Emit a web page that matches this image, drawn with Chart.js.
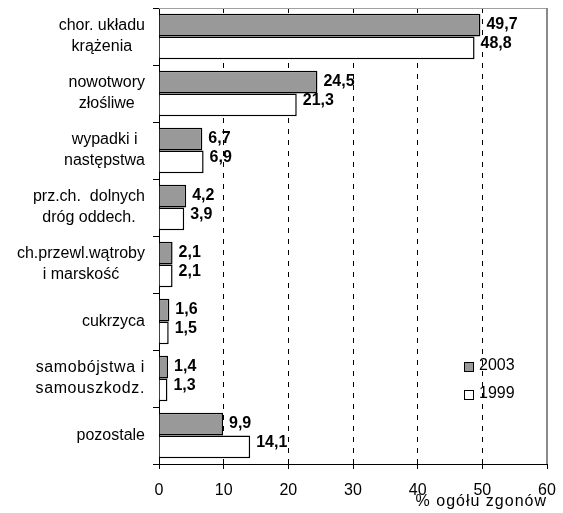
<!DOCTYPE html>
<html>
<head>
<meta charset="utf-8">
<script src="https://cdn.jsdelivr.net/npm/chart.js@4"></script>
<style>
  body { margin: 0; background: #fff; }
  canvas { display: block; }
</style>
</head>
<body>
<canvas id="chart" width="563" height="513"></canvas>
<script>
// categories (two-line labels as arrays)
const categories = [
    ['chor. układu', 'krążenia'],
    ['nowotwory', 'złośliwe'],
    ['wypadki i', 'następstwa'],
    ['prz.ch.  dolnych', 'dróg oddech.'],
    ['ch.przewl.wątroby', 'i marskość'],
    ['cukrzyca'],
    ['samobójstwa i', 'samouszkodz.'],
    ['pozostale']
];
const values2003 = [49.7, 24.5, 6.7, 4.2, 2.1, 1.6, 1.4, 9.9];
const values1999 = [48.8, 21.3, 6.9, 3.9, 2.1, 1.5, 1.3, 14.1];
const seriesNames = ['2003', '1999'];
const xTicks = [0, 10, 20, 30, 40, 50, 60];
const axisTitle = '% ogółu zgonów';

const FONT = '"Liberation Sans", Arial, sans-serif';
const GREY = '#999999';

function fmt(v) {
    return v.toFixed(1).replace('.', ',');
}

// draws frame, category labels, value labels, legend and axis title
const decorPlugin = {
    id: 'decor',
    afterDraw(chart) {
        const ctx = chart.ctx;
        const area = chart.chartArea;
        const yScale = chart.scales.y;

        // top / right frame
        ctx.save();
        ctx.strokeStyle = '#a0a0a0';
        ctx.lineWidth = 1;
        ctx.beginPath();
        ctx.moveTo(area.left, area.top + 0.5);
        ctx.lineTo(area.right, area.top + 0.5);
        ctx.stroke();
        ctx.strokeStyle = '#8a8a8a';
        ctx.lineWidth = 2;
        ctx.beginPath();
        ctx.moveTo(area.right, area.top);
        ctx.lineTo(area.right, area.bottom);
        ctx.stroke();
        ctx.restore();

        // category labels: block right-aligned, lines centred inside the block
        ctx.save();
        ctx.font = '16px ' + FONT;
        ctx.fillStyle = '#000';
        ctx.textBaseline = 'middle';
        ctx.textAlign = 'center';
        const lineH = 21;
        categories.forEach((lines, i) => {
            ctx.letterSpacing = i === 6 ? '0.6px' : '0px';
            const y = yScale.getPixelForValue(i);
            const maxW = Math.max(...lines.map(l => ctx.measureText(l).width));
            const cx = area.left - 14 - maxW / 2;
            const y0 = y - (lines.length - 1) * lineH / 2;
            lines.forEach((l, k) => ctx.fillText(l, cx, y0 + k * lineH));
        });
        ctx.letterSpacing = '0px';
        ctx.restore();

        // value labels
        ctx.save();
        ctx.font = 'bold 16px ' + FONT;
        ctx.fillStyle = '#000';
        ctx.textBaseline = 'middle';
        ctx.textAlign = 'left';
        chart.data.datasets.forEach((ds, di) => {
            const dy = di === 0 ? -0.5 : -4;
            chart.getDatasetMeta(di).data.forEach((bar, i) => {
                ctx.fillText(fmt(ds.data[i]), bar.x + 6, bar.y + dy);
            });
        });
        ctx.restore();

        // legend inside plot
        ctx.save();
        ctx.font = '16px ' + FONT;
        ctx.textBaseline = 'middle';
        ctx.textAlign = 'left';
        const lx = Math.round(chart.scales.x.getPixelForValue(47.2));
        const ly = Math.round(yScale.getPixelForValue(6) - 13);
        chart.data.datasets.forEach((ds, di) => {
            const y = ly + di * 28;
            ctx.fillStyle = ds.backgroundColor;
            ctx.fillRect(lx, y - 4, 9, 9);
            ctx.strokeStyle = '#000';
            ctx.lineWidth = 1;
            ctx.strokeRect(lx + 0.5, y - 3.5, 9, 9);
            ctx.fillStyle = '#000';
            ctx.fillText(ds.label, lx + 15, y);
        });
        ctx.restore();

        // x axis title
        ctx.save();
        ctx.font = '16px ' + FONT;
        ctx.letterSpacing = '1px';
        ctx.fillStyle = '#000';
        ctx.textAlign = 'right';
        ctx.textBaseline = 'middle';
        ctx.fillText(axisTitle, area.right, 502);
        ctx.restore();
    }
};

const ctx = document.getElementById('chart').getContext('2d');
new Chart(ctx, {
    type: 'bar',
    data: {
        labels: categories,
        datasets: [{
            label: seriesNames[0],
            data: values2003,
            backgroundColor: GREY,
            borderColor: '#000',
            borderWidth: 1.5,
            categoryPercentage: 0.8,
            barPercentage: 1.0
        }, {
            label: seriesNames[1],
            data: values1999,
            backgroundColor: '#ffffff',
            borderColor: '#000',
            borderWidth: 1.5,
            categoryPercentage: 0.8,
            barPercentage: 1.0
        }]
    },
    options: {
        indexAxis: 'y',
        responsive: false,
        animation: false,
        devicePixelRatio: 1,
        layout: {
            padding: { top: 8, right: 16, left: 0, bottom: 0 }
        },
        plugins: {
            legend: { display: false },
            tooltip: { enabled: false }
        },
        scales: {
            x: {
                min: xTicks[0],
                max: xTicks[xTicks.length - 1],
                afterBuildTicks: (scale) => {
                    scale.ticks = xTicks.map(v => ({ value: v }));
                },
                afterFit: (scale) => {
                    scale.height = 49;
                },
                grid: {
                    // 0 is covered by the y axis, 60 is drawn as the grey frame
                    color: (c) => c.tick && (c.tick.value === 60 || c.tick.value === 0) ? 'rgba(0,0,0,0)' : '#000',
                    tickColor: '#000',
                    tickLength: 5,
                    lineWidth: 1
                },
                border: {
                    color: '#000',
                    width: 1,
                    dash: [5, 6]
                },
                ticks: {
                    color: '#000',
                    padding: 6,
                    font: { family: FONT, size: 16, lineHeight: 1.9 }
                }
            },
            y: {
                afterFit: (scale) => {
                    scale.width = 159;
                },
                grid: {
                    drawOnChartArea: false,
                    drawTicks: true,
                    tickLength: 6,
                    color: '#000'
                },
                border: {
                    color: '#000',
                    width: 1
                },
                ticks: { display: false }
            }
        }
    },
    plugins: [decorPlugin]
});
</script>
</body>
</html>
